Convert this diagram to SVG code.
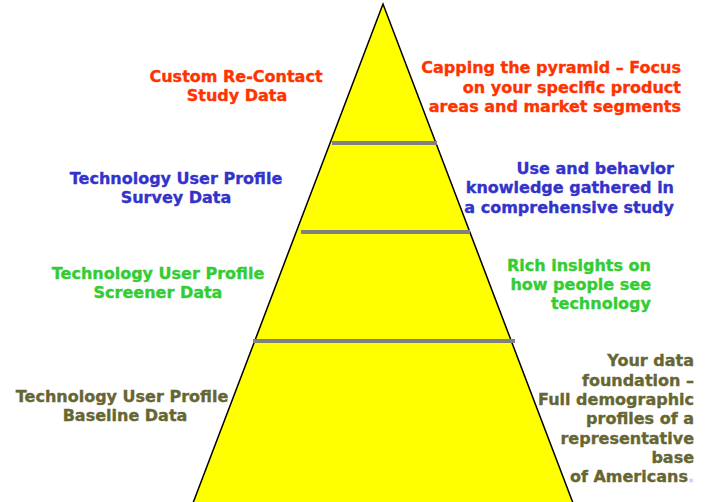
<svg xmlns="http://www.w3.org/2000/svg" width="709" height="502" viewBox="0 0 709 502">
  <style>
    text { font-family: "DejaVu Sans", Verdana, sans-serif; font-weight: bold; font-size: 16px; stroke-width: 0.35; }
    .c { text-anchor: middle; }
    .r { text-anchor: end; }
    .red { fill: #FF3300; stroke: #FF3300; }
    .blue { fill: #3333CC; stroke: #3333CC; }
    .green { fill: #33CC33; stroke: #33CC33; }
    .olive { fill: #666633; stroke: #666633; }
    .tier { stroke: #808080; stroke-width: 4; }
  </style>
  <rect width="709" height="502" fill="#ffffff"/>

  <!-- pyramid body -->
  <g id="pyramid">
    <polygon points="383,4 193,503 573,503" fill="#FFFF00" stroke="#000000" stroke-width="1.5"/>
  </g>

  <!-- tier dividers -->
  <g id="connectors">
    <line class="tier" x1="332" y1="143" x2="437" y2="143"/>
    <line class="tier" x1="301" y1="232" x2="470" y2="232"/>
    <line class="tier" x1="253" y1="341" x2="515" y2="341"/>
  </g>

  <g id="tier-custom">
    <text class="c red" x="236" y="82">Custom Re-Contact</text>
    <text class="c red" x="237" y="101">Study Data</text>
    <text class="r red" x="681" y="73">Capping the pyramid – Focus</text>
    <text class="r red" x="681" y="93">on your specific product</text>
    <text class="r red" x="681" y="112">areas and market segments</text>
  </g>

  <g id="tier-survey">
    <text class="c blue" x="176" y="184">Technology User Profile</text>
    <text class="c blue" x="176" y="203">Survey Data</text>
    <text class="r blue" x="674" y="174">Use and behavior</text>
    <text class="r blue" x="674" y="193">knowledge gathered in</text>
    <text class="r blue" x="674" y="213">a comprehensive study</text>
  </g>

  <g id="tier-screener">
    <text class="c green" x="158" y="279">Technology User Profile</text>
    <text class="c green" x="158" y="298">Screener Data</text>
    <text class="r green" x="651" y="271">Rich insights on</text>
    <text class="r green" x="651" y="290">how people see</text>
    <text class="r green" x="651" y="309">technology</text>
  </g>

  <g id="tier-baseline">
    <text class="c olive" x="122" y="402">Technology User Profile</text>
    <text class="c olive" x="125" y="421">Baseline Data</text>
    <text class="r olive" x="694" y="366">Your data</text>
    <text class="r olive" x="694" y="386">foundation –</text>
    <text class="r olive" x="694" y="405">Full demographic</text>
    <text class="r olive" x="694" y="424">profiles of a</text>
    <text class="r olive" x="694" y="444">representative</text>
    <text class="r olive" x="694" y="463">base</text>
    <text class="r olive" x="694" y="482">of Americans<tspan fill="#CCCCFF" stroke="#CCCCFF">.</tspan></text>
  </g>
</svg>
